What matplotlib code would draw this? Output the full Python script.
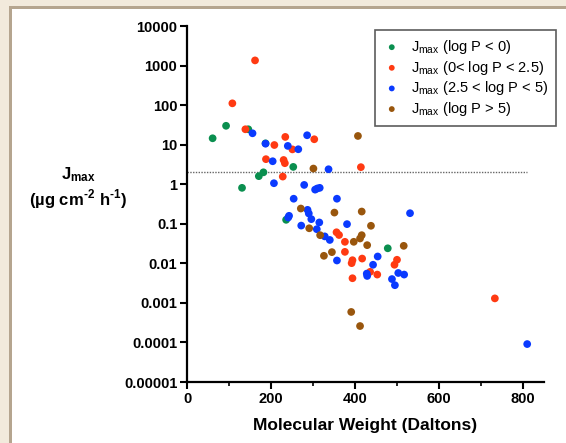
import matplotlib
matplotlib.use("Agg")
import matplotlib.pyplot as plt
from matplotlib.patches import Rectangle
from matplotlib.ticker import FixedLocator, NullLocator, FixedFormatter

plt.rcParams['font.family'] = ['Liberation Sans', 'DejaVu Sans']
plt.rcParams['mathtext.fontset'] = 'custom'
plt.rcParams['mathtext.rm'] = 'Liberation Sans'
plt.rcParams['mathtext.bf'] = 'Liberation Sans:bold'

# ---- data ----
green_mw = [61, 93, 146, 131, 171, 182, 187, 253, 236, 478]
green_j = [14.5, 30, 24.5, 0.81, 1.6, 2.0, 10.8, 2.74, 0.126, 0.024]

red_mw = [162, 108, 139, 188, 208, 234, 230, 233, 251, 228, 303, 414,
          356, 362, 376, 376, 394, 392, 417, 394, 436, 453, 500, 494, 733]
red_j = [1350, 111, 24.5, 4.3, 9.8, 15.7, 4.1, 3.4, 7.6, 1.56, 13.7, 2.7,
         0.061, 0.052, 0.035, 0.0195, 0.012, 0.0101, 0.0132, 0.0042, 0.0061,
         0.0052, 0.0123, 0.0092, 0.0013]

blue_mw = [156, 187, 204, 207, 240, 265, 286, 337, 279, 305, 310, 316,
           254, 357, 243, 241, 287, 290, 296, 315, 272, 309, 328, 340, 381,
           357, 443, 428, 429, 454, 531, 488, 495, 503, 517, 810]
blue_j = [19.4, 10.6, 3.81, 1.06, 9.3, 7.66, 17.3, 2.39, 0.96, 0.73, 0.78,
          0.81, 0.43, 0.43, 0.159, 0.144, 0.225, 0.182, 0.131, 0.108, 0.090,
          0.073, 0.048, 0.039, 0.098, 0.0118, 0.0092, 0.0055, 0.0048, 0.0149,
          0.185, 0.0040, 0.0028, 0.0057, 0.0052, 0.000091]

brown_mw = [407, 301, 271, 351, 416, 291, 438, 317, 416, 412, 397, 429,
            345, 326, 516, 391, 412]
brown_j = [16.6, 2.49, 0.243, 0.192, 0.204, 0.077, 0.089, 0.0515, 0.0515,
           0.0425, 0.035, 0.0288, 0.0192, 0.0155, 0.0277, 0.00059, 0.00026]

threshold = 2.0
y_ticks = [1e-5, 1e-4, 1e-3, 1e-2, 1e-1, 1, 10, 100, 1000, 10000]
y_tick_labels = ['0.00001', '0.0001', '0.001', '0.01', '0.1', '1', '10',
                 '100', '1000', '10000']
x_ticks = [0, 200, 400, 600, 800]
x_minor = [100, 300, 500, 700]

labels = [r'$\mathregular{J_{max}}$ (log P < 0)',
          r'$\mathregular{J_{max}}$ (0< log P < 2.5)',
          r'$\mathregular{J_{max}}$ (2.5 < log P < 5)',
          r'$\mathregular{J_{max}}$ (log P > 5)']
colors = ['#0a8f4f', '#ff3a12', '#0a3aff', '#99560d']

# ---- figure ----
W, H = 566, 443
fig = plt.figure(figsize=(W / 100, H / 100), dpi=100)
fig.patch.set_facecolor('#f2eadc')

def px_rect(x0, y0, x1, y1, color):
    fig.patches.append(Rectangle((x0 / W, 1 - y1 / H), (x1 - x0) / W,
                                 (y1 - y0) / H, transform=fig.transFigure,
                                 facecolor=color, edgecolor='none', zorder=-10))

px_rect(9, 6, W, H, '#b5a58f')
px_rect(12, 9, W, H, 'white')

ax = fig.add_axes([187 / W, 1 - 382 / H, (544 - 187) / W, (382 - 26) / H])
ax.set_facecolor('none')

series = [(green_mw, green_j), (red_mw, red_j), (blue_mw, blue_j), (brown_mw, brown_j)]
handles = []
for (xs, ys), c, lab in zip(series, colors, labels):
    h = ax.scatter(xs, ys, s=31, color=c, edgecolors='none', label=lab, zorder=3)
    handles.append(h)

ax.plot([0, 810], [threshold, threshold], linestyle=(0, (1, 1)),
        color='#666666', linewidth=1.0, zorder=2)

ax.set_yscale('log')
ax.set_xlim(0, 850)
ax.set_ylim(1e-5, 1e4)
ax.yaxis.set_major_locator(FixedLocator(y_ticks))
ax.yaxis.set_major_formatter(FixedFormatter(y_tick_labels))
ax.yaxis.set_minor_locator(NullLocator())
ax.xaxis.set_major_locator(FixedLocator(x_ticks))
ax.xaxis.set_minor_locator(FixedLocator(x_minor))

for s in ['top', 'right']:
    ax.spines[s].set_visible(False)
for s in ['left', 'bottom']:
    ax.spines[s].set_linewidth(1.6)
    ax.spines[s].set_color('black')

ax.tick_params(axis='both', which='major', direction='out', length=5,
               width=1.5, labelsize=10.5, pad=2)
ax.tick_params(axis='x', which='minor', direction='out', length=3, width=1.2)
for lbl in ax.get_xticklabels() + ax.get_yticklabels():
    lbl.set_fontweight('bold')

ax.set_xlabel('Molecular Weight (Daltons)', fontsize=12.5, fontweight='bold',
              labelpad=9)
fig.text(78 / W, 1 - 175 / H, r'$\mathbf{J_{max}}$', ha='center', va='center',
         fontsize=12, fontweight='bold')
fig.text(78 / W, 1 - 199 / H,
         '(\u00b5g cm$\\mathbf{^{\u2010}}$$^{\\mathbf{2}}$ h$^{\\mathbf{\u20101}}$)',
         ha='center', va='center', fontsize=12, fontweight='bold')

leg = fig.legend(handles=handles, loc='upper left',
                 bbox_to_anchor=(375 / W, 1 - 30 / H), frameon=True,
                 fancybox=False, edgecolor='#333333', fontsize=10.5,
                 markerscale=0.75, handletextpad=0.7, borderpad=0.55,
                 labelspacing=0.18, handlelength=1.2, borderaxespad=0)
leg.get_frame().set_linewidth(1.2)

fig.savefig('out.png', dpi=100, facecolor=fig.get_facecolor())
